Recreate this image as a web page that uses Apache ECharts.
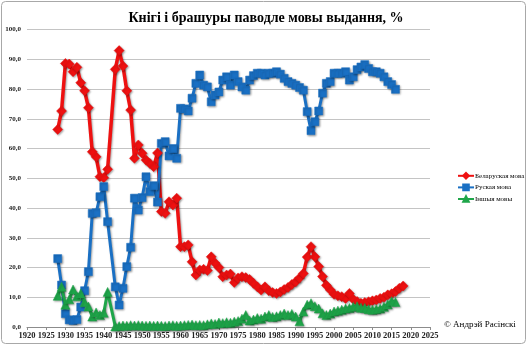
<!DOCTYPE html>
<html><head><meta charset="utf-8">
<script src="https://cdn.jsdelivr.net/npm/echarts@6/dist/echarts.min.js"></script>
<style>html,body{margin:0;padding:0;background:#fff}#c{width:528px;height:346px}</style>
</head><body><div id="c"></div><script>
const TITLE = 'Кнігі і брашуры паводле мовы выдання, %';
const SERIES_NAMES = ['Беларуская мова', 'Руская мова', 'Іншыя мовы'];
const COPYRIGHT = '© Андрэй Расінскі';

const YEARS_BY = [1928,1929,1930,1931,1932,1933,1934,1935,1936,1937,1938,1939,1940,1941,
  1943,1944,1945,1946,1947,1948,1949,1950,1951,1952,1953,1954,1955,1956,1957,1958,1959,
  1960,1961,1962,1963,1964,1965,1966,1967,1968,1969,1970,1971,1972,1973,1974,1975,1976,1977,1978,1979,
  1980,1981,1982,1983,1984,1985,1986,1987,1988,1989,1990,1991,1992,1993,1994,1995,1996,1997,1998,1999,
  2000,2001,2002,2003,2004,2005,2006,2007,2008,2009,2010,2011,2012,2013,2014,2015,2016,2017,2018];
const BELARUSIAN = [66.4,72.6,88.6,88.4,85.8,87.3,82.1,79.4,73.7,58.9,57.2,50.5,50.2,53.0,
  86.6,92.9,87.7,79.4,72.9,56.7,61.2,58.4,56.1,55.0,53.9,58.5,38.8,38.2,42.1,41.0,43.3,
  27.0,27.0,27.6,21.9,17.5,19.2,19.4,19.0,23.6,21.5,20.0,16.9,17.5,17.8,15.0,16.5,16.9,16.6,16.0,14.7,
  13.5,12.4,13.5,12.2,11.6,11.3,11.8,12.6,13.3,14.3,15.2,16.5,18.0,23.5,27.0,23.6,20.3,17.0,14.0,12.5,
  11.0,10.5,10.2,9.6,11.3,9.3,8.6,8.0,8.2,8.5,8.8,9.1,9.6,10.0,10.8,11.2,11.9,13.0,13.8];

const YEARS_OTHER = [1928,1929,1930,1931,1932,1933,1934,1935,1936,1937,1938,1939,1940,1941,
  1943,1944,1945,1946,1947,1948,1949,1950,1951,1952,1953,1954,1955,1956,1957,1958,1959,
  1960,1961,1962,1963,1964,1965,1966,1967,1968,1969,1970,1971,1972,1973,1974,1975,1976,1977,1978,1979,
  1980,1981,1982,1983,1984,1985,1986,1987,1988,1989,1990,1991,1992,1993,1994,1995,1996,1997,1998,1999,
  2000,2001,2002,2003,2004,2005,2006,2007,2008,2009,2010,2011,2012,2013,2014,2015,2016];
const RUSSIAN = [23.0,14.1,4.5,2.4,2.2,2.5,6.7,12.2,18.6,38.2,38.4,43.8,47.2,35.4,
  13.5,7.4,13.0,20.3,26.8,43.3,39.3,43.5,50.5,45.5,47.5,42.0,61.7,62.3,57.5,60.0,56.7,
  73.5,73.3,72.6,76.9,81.9,84.7,81.3,80.7,75.7,78.0,79.0,83.0,84.1,81.3,84.7,82.5,80.7,79.6,83.0,84.5,
  85.3,85.3,84.7,85.3,85.3,85.8,85.0,83.6,82.5,81.9,81.3,80.5,79.6,72.4,66.0,69.0,72.6,78.6,81.9,82.5,
  85.3,85.3,85.3,85.8,83.0,84.1,86.5,87.4,88.2,86.9,85.8,85.8,85.3,84.1,82.5,81.5,79.9];
const OTHER = [10.5,13.5,7.5,9.3,12.6,10.3,11.3,8.3,6.9,3.5,4.9,4.0,4.8,11.8,
  0.2,0.3,0.5,0.4,0.6,0.5,0.6,0.5,0.4,0.5,0.4,0.5,0.4,0.3,0.5,0.6,0.4,
  0.5,0.6,0.7,0.8,0.6,0.7,0.6,0.9,1.2,1.0,1.5,1.3,1.6,1.4,1.8,2.0,2.8,4.0,2.2,2.5,
  3.0,2.8,3.5,4.0,3.4,3.6,4.0,4.5,4.0,4.4,3.5,1.9,5.2,7.5,8.0,7.0,6.2,4.6,4.0,4.5,
  5.2,5.5,5.8,6.2,6.4,6.8,7.0,6.5,6.4,6.0,5.8,6.0,6.2,6.8,7.6,8.7,8.4];

const X_MIN = 1920, X_MAX = 2025, X_STEP = 5;
const Y_MIN = 0, Y_MAX = 100, Y_STEP = 10;

function pairs(xs, ys) { return xs.map((x, i) => [x, ys[i]]); }

const serif = "'Liberation Serif', 'DejaVu Serif', serif";
const shadow = { shadowBlur: 2, shadowColor: 'rgba(0,0,0,0.35)', shadowOffsetX: 1, shadowOffsetY: 1 };

function mkSeries(name, xs, ys, color, symbol, size, lw) {
  return {
    name, type: 'line', data: pairs(xs, ys), symbol, symbolSize: size,
    showAllSymbol: true,
    lineStyle: Object.assign({ color, width: lw }, shadow),
    itemStyle: Object.assign({ color, borderColor: color, borderWidth: 0.5 }, shadow),
    emphasis: { disabled: true }
  };
}

const chart = echarts.init(document.getElementById('c'), null, { renderer: 'canvas' });
chart.setOption({
  animation: false,
  backgroundColor: '#ffffff',
  title: {
    text: TITLE, left: 261, top: 6, textAlign: 'center',
    textStyle: { fontFamily: serif, fontSize: 14, fontWeight: 'bold', color: '#000' }
  },
  legend: {
    orient: 'vertical', left: 452, top: 167, itemGap: 4, itemWidth: 16, itemHeight: 7,
    data: SERIES_NAMES,
    textStyle: { fontFamily: serif, fontSize: 7, color: '#000', padding: [0, 0, 0, -4] }
  },
  grid: { left: 27, right: 98, top: 29.5, bottom: 19, containLabel: false },
  xAxis: {
    type: 'value', min: X_MIN, max: X_MAX, interval: X_STEP,
    axisLine: { show: true, lineStyle: { color: '#8c8c8c', width: 1 } },
    axisTick: { show: true, length: 3, lineStyle: { color: '#8c8c8c' } },
    axisLabel: { fontFamily: serif, fontSize: 8.5, fontWeight: 'bold', color: '#222', margin: 4,
      formatter: v => String(v) },
    splitLine: { show: false }
  },
  yAxis: {
    type: 'value', min: Y_MIN, max: Y_MAX, interval: Y_STEP,
    axisLine: { show: false }, axisTick: { show: false },
    axisLabel: { fontFamily: serif, fontSize: 7, fontWeight: 'bold', color: '#222', margin: 6,
      formatter: v => v.toFixed(1).replace('.', ',') },
    splitLine: { lineStyle: { color: '#c4c4c4', width: 1 } }
  },
  graphic: [
    { type: 'rect', shape: { x: 1.5, y: 1.5, width: 524, height: 342, r: 4 },
      style: { fill: 'none', stroke: '#a8a8a8', lineWidth: 1 }, silent: true },
    { type: 'text', left: 444, top: 320,
      style: { text: COPYRIGHT, font: "9px 'Liberation Serif', serif", fill: '#000' } }
  ],
  series: [
    mkSeries(SERIES_NAMES[0], YEARS_BY, BELARUSIAN, '#ee1111', 'diamond', 10, 3.5),
    mkSeries(SERIES_NAMES[1], YEARS_OTHER, RUSSIAN, '#1a70c4', 'rect', 8, 3),
    mkSeries(SERIES_NAMES[2], YEARS_OTHER, OTHER, '#1fa64a', 'triangle', 9, 3)
  ]
});
</script></body></html>
